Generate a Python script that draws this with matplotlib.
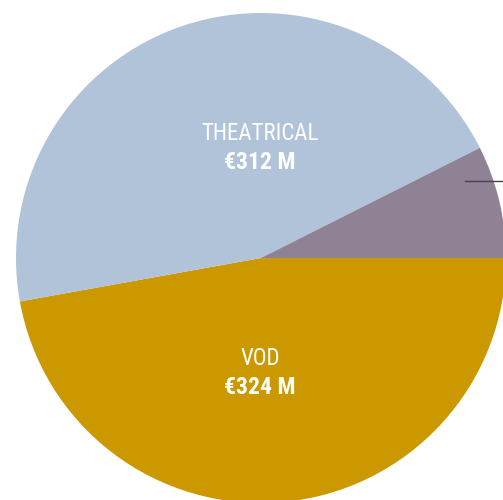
import matplotlib
matplotlib.use("Agg")
import matplotlib.pyplot as plt
from matplotlib import font_manager

# revenue split (EUR millions), the third slice is only partly visible
labels = ["VOD", "THEATRICAL", "OTHER"]
values = [324, 312, 51]
colors = ["#CC9800", "#B1C3D8", "#8E8294"]
value_text = ["€324 M", "€312 M", "€51 M"]

names = {f.name for f in font_manager.fontManager.ttflist}
family = "DejaVu Sans"
for cand in ["Liberation Sans Narrow", "Roboto Condensed", "DejaVu Sans Condensed"]:
    if cand in names:
        family = cand
        break

fig = plt.figure(figsize=(5.03, 5.00), dpi=100)
ax = fig.add_axes([16 / 503, -3 / 500, 490 / 503, 490 / 500])
ax.pie(values, colors=colors, startangle=0, counterclock=False, radius=1,
       wedgeprops=dict(linewidth=0))
ax.set_xlim(-1, 1)
ax.set_ylim(-1, 1)
ax.set_aspect("equal")
ax.axis("off")

# labels inside the two big slices
ax.text(-0.005, 0.51, labels[1], ha="center", va="center", color="white",
        fontsize=16.5, family=family, fontweight="normal")
ax.text(-0.005, 0.39, value_text[1], ha="center", va="center", color="white",
        fontsize=17, family=family, fontweight="bold")
ax.text(-0.005, -0.41, labels[0], ha="center", va="center", color="white",
        fontsize=16.5, family=family, fontweight="normal")
ax.text(-0.005, -0.53, value_text[0], ha="center", va="center", color="white",
        fontsize=17, family=family, fontweight="bold")

# leader line for the small slice, label sits outside the frame
ax.plot([0.833, 1.3], [0.314, 0.314], color="#4a4050", lw=1, clip_on=False)

fig.savefig("out.png", dpi=100)
